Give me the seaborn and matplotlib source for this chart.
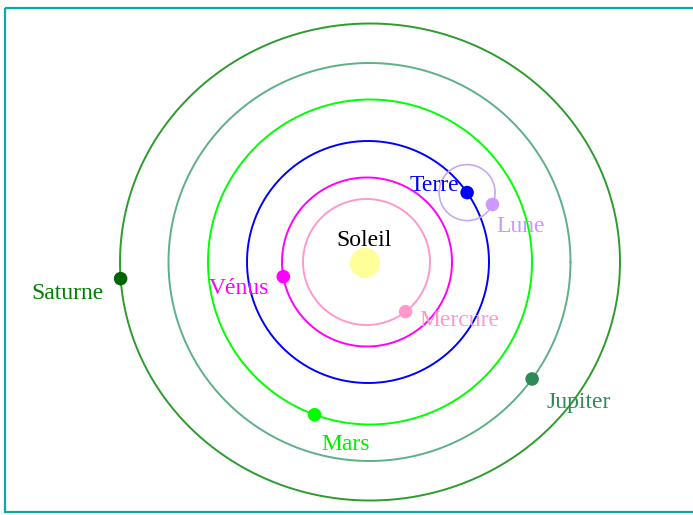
import numpy as np
import pandas as pd
import matplotlib.pyplot as plt
import seaborn as sns
from matplotlib.patches import Rectangle

# Données du schéma (unités = pixels de l'image)
planets = ["Mercure", "Vénus", "Terre", "Mars", "Jupiter", "Saturne"]
orbit_rx = [63.5, 85, 121, 162, 201, 250]
orbit_ry = [63, 84.5, 121, 162.5, 199, 238.5]
orbit_cx = [366.5, 367, 368, 370, 369.5, 370]
angle_deg = [-52, 190, 35, 250, -36, 184]

moon_orbit_r = 28
moon_angle_deg = -25

orbit_cy = 262
sun_xy = (365, 263)

# Couleurs
orbit_colors = ["#FF99CC", "#FF00FF", "#0000FF", "#00FF00", "#5FAF88", "#2E9B2E"]
marker_colors = ["#FF99CC", "#FF00FF", "#0000FF", "#00FF00", "#2E8B57", "#006400"]
label_colors = ["#FF99CC", "#FF00FF", "#0000FF", "#00EE00", "#2E8B57", "#008000"]
moon_color = "#CC99FF"
sun_color = "#FFFF99"

sns.set_theme(style="white")
plt.rcParams['font.family'] = ['Liberation Serif', 'DejaVu Serif']

fig = plt.figure(figsize=(6.93, 5.15), dpi=100)
ax = fig.add_axes([0, 0, 1, 1])

# Orbites
t = np.linspace(0, 2 * np.pi, 400)
rows = []
for name, cx, rx, ry in zip(planets, orbit_cx, orbit_rx, orbit_ry):
    for a in t:
        rows.append({"planet": name,
                     "x": cx + rx * np.cos(a),
                     "y": orbit_cy - ry * np.sin(a)})
orbits = pd.DataFrame(rows)
sns.lineplot(data=orbits, x="x", y="y", hue="planet", palette=dict(zip(planets, orbit_colors)),
             sort=False, estimator=None, linewidth=1.4, legend=False, ax=ax)

# Positions des planètes
pos = pd.DataFrame({
    "planet": planets,
    "x": [cx + rx * np.cos(np.radians(a)) for cx, rx, a in zip(orbit_cx, orbit_rx, angle_deg)],
    "y": [orbit_cy - ry * np.sin(np.radians(a)) for ry, a in zip(orbit_ry, angle_deg)],
})
earth = pos[pos.planet == "Terre"].iloc[0]

# Orbite et position de la Lune
moon_orbit = pd.DataFrame({"x": earth.x + moon_orbit_r * np.cos(t), "y": earth.y - moon_orbit_r * np.sin(t)})
sns.lineplot(data=moon_orbit, x="x", y="y", sort=False, estimator=None, color="#C8A8F0", linewidth=1.2, ax=ax)
moon = pd.DataFrame({"x": [earth.x + moon_orbit_r * np.cos(np.radians(moon_angle_deg))],
                     "y": [earth.y - moon_orbit_r * np.sin(np.radians(moon_angle_deg))]})

# Soleil
sns.scatterplot(x=[sun_xy[0]], y=[sun_xy[1]], s=470, color=sun_color, edgecolor="none", ax=ax, zorder=3)

sns.scatterplot(data=pos, x="x", y="y", hue="planet", palette=dict(zip(planets, marker_colors)),
                s=95, edgecolor="none", legend=False, ax=ax, zorder=4)
sns.scatterplot(data=moon, x="x", y="y", color=moon_color, s=95, edgecolor="none", ax=ax, zorder=4)

# Étiquettes
offsets = {"Mercure": (54, 9), "Vénus": (-44, 12), "Terre": (-33, -7), "Mars": (31, 30),
           "Jupiter": (47, 24), "Saturne": (-53, 15)}
for (_, row), col in zip(pos.iterrows(), label_colors):
    dx, dy = offsets[row.planet]
    ax.text(row.x + dx, row.y + dy, row.planet, color=col, fontsize=17, ha="center", va="center")
ax.text(moon.x[0] + 28, moon.y[0] + 22, "Lune", color=moon_color, fontsize=17, ha="center", va="center")
ax.text(sun_xy[0] - 1, sun_xy[1] - 23, "Soleil", color="black", fontsize=17, ha="center", va="center")

# Cadre
ax.add_patch(Rectangle((4.5, 8), 800, 503.5, fill=False, edgecolor="#11A5A5", linewidth=1.6,
                       zorder=5, clip_on=False))

ax.set_xlim(0, 693)
ax.set_ylim(515, 0)
ax.axis("off")

fig.savefig("out.png", dpi=100)
